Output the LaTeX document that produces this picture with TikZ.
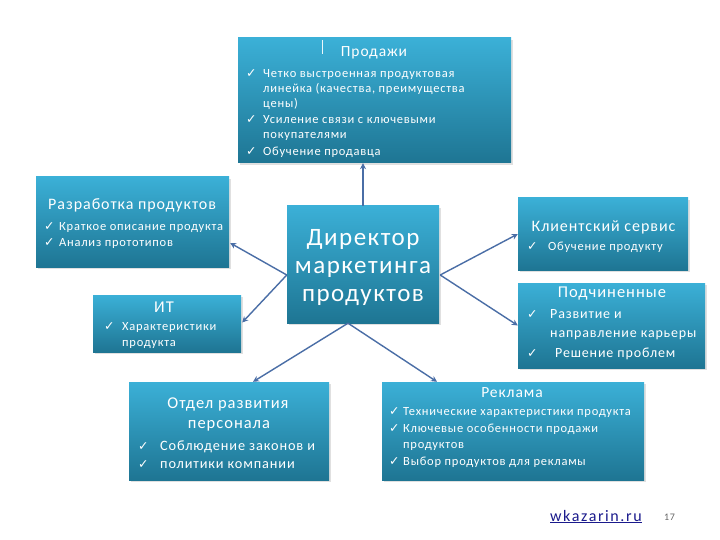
\documentclass[tikz,border=0pt]{standalone}
\usepackage{fontspec}
\setmainfont{Carlito}[LetterSpace=6]
\newfontfamily\symf{DejaVu Sans}
\newfontfamily\dirf{Carlito}[LetterSpace=6]
\newfontfamily\linkf{Carlito}[LetterSpace=10]
\usetikzlibrary{calc,shadows,arrows.meta}
\definecolor{boxtop}{HTML}{3BB0D7}
\definecolor{boxbot}{HTML}{1E7593}
\definecolor{arrc}{HTML}{4A6EA6}
\definecolor{linkc}{HTML}{1A1A8C}
\newcommand\fsz[1]{\fontsize{#1}{#1}\selectfont}
\newcommand\ckm{{\symf\fontsize{12.5}{12.5}\selectfont ✓}}
\tikzset{
  box/.style={rectangle, inner sep=0pt, draw=none, top color=boxtop, bottom color=boxbot,
    drop shadow={shadow xshift=2pt, shadow yshift=-2pt, opacity=0.2, fill=black!60}},
  txt/.style={anchor=base west, inner sep=0pt, text=white},
  ctr/.style={anchor=base, inner sep=0pt, text=white},
  ck/.style={anchor=base west, inner sep=0pt, text=white},
  arr/.style={draw=arrc, line width=1.4pt, -{Stealth[length=6pt,width=6pt]}}
}
\begin{document}
\begin{tikzpicture}[x=1pt,y=-1pt]
\useasboundingbox[fill=white] (0,0) rectangle (720,540);
% boxes
\node[box, minimum width=273, minimum height=125] (sales) at (374.5,100.5) {};
\node[box, minimum width=193, minimum height=90] (razr) at (132.5,222) {};
\node[box, minimum width=148, minimum height=57] (it) at (167,323.5) {};
\node[box, minimum width=152, minimum height=117] (dir) at (363,264.5) {};
\node[box, minimum width=170, minimum height=72] (klient) at (603,234) {};
\node[box, minimum width=187, minimum height=85] (podch) at (611.5,325.5) {};
\node[box, minimum width=200, minimum height=98] (otdel) at (229,431) {};
\node[box, minimum width=262, minimum height=98] (reklama) at (513,431) {};
% connectors
\draw[arr] (dir.north) -- (dir.north |- sales.south);
\draw[arr] ($(dir.west)+(0,10.5)$) -- ($(razr.east)+(1,21)$);
\draw[arr] ($(dir.west)+(0,10.5)$) -- ($(it.east)+(1,-1)$);
\draw[arr] ($(dir.east)+(1,10.5)$) -- (klient.west);
\draw[arr] ($(dir.east)+(1,10.5)$) -- (podch.west);
\draw[arr] ($(dir.south)+(-15,0)$) -- ($(otdel.north)+(24,0)$);
\draw[arr] ($(dir.south)+(-15,0)$) -- ($(reklama.north)+(-76,0)$);
% sales text
\node[inner sep=0pt, fill=white!90!boxtop, minimum width=1, minimum height=14] (bar) at (322,47) {};
\node[ctr, font=\fsz{15.5}] (s0) at (374,57) {Продажи};
\node[ck] (sc1) at (246,78) {\ckm};
\node[txt, font=\fsz{12.5}] (s1) at (263,78) {Четко выстроенная продуктовая};
\node[txt, font=\fsz{12.5}] (s2) at (263,93) {линейка (качества, преимущества};
\node[txt, font=\fsz{12.5}] (s3) at (263,108) {цены)};
\node[ck] (sc2) at (246,124) {\ckm};
\node[txt, font=\fsz{12.5}] (s4) at (263,124) {Усиление связи с ключевыми};
\node[txt, font=\fsz{12.5}] (s5) at (263,139) {покупателями};
\node[ck] (sc3) at (246,156) {\ckm};
\node[txt, font=\fsz{12.5}] (s6) at (263,156) {Обучение продавца};
% razr text
\node[txt, font=\fsz{16}] (r0) at (48,210) {Разработка продуктов};
\node[ck] (rc1) at (44,230) {\ckm};
\node[txt, font=\fsz{12.5}] (r1) at (59,230) {Краткое описание продукта};
\node[ck] (rc2) at (44,246) {\ckm};
\node[txt, font=\fsz{12.5}] (r2) at (59,246) {Анализ прототипов};
% it text
\node[ctr, font=\fsz{16.5}] (i0) at (164,312) {ИТ};
\node[ck] (ic1) at (104,330) {\ckm};
\node[txt, font=\fsz{12.5}] (i1) at (122,330) {Характеристики};
\node[txt, font=\fsz{12.5}] (i2) at (122,346) {продукта};
% director
\node[ctr, font=\dirf\fsz{25}] (d1) at (363,245) {Директор};
\node[ctr, font=\dirf\fsz{25}] (d2) at (363,273) {маркетинга};
\node[ctr, font=\dirf\fsz{25}] (d3) at (363,301) {продуктов};
% klient
\node[ctr, font=\fsz{16}] (k0) at (603.5,232) {Клиентский сервис};
\node[ck] (kc1) at (527,250) {\ckm};
\node[txt, font=\fsz{12.5}] (k1) at (548,250) {Обучение продукту};
% podch
\node[ctr, font=\fsz{16.5}] (p0) at (612,297) {Подчиненные};
\node[ck] (pc1) at (527,318) {\ckm};
\node[txt, font=\fsz{14}] (p1) at (550,318) {Развитие и};
\node[txt, font=\fsz{14}] (p2) at (550,337) {направление карьеры};
\node[ck] (pc2) at (527,357) {\ckm};
\node[txt, font=\fsz{14}] (p3) at (555,357) {Решение проблем};
% otdel
\node[ctr, font=\fsz{16.5}] (o0) at (228,408) {Отдел развития};
\node[ctr, font=\fsz{16.5}] (o1) at (229,428) {персонала};
\node[ck] (oc1) at (138,450) {\ckm};
\node[txt, font=\fsz{14.3}] (o2) at (160,450) {Соблюдение законов и};
\node[ck] (oc2) at (138,468) {\ckm};
\node[txt, font=\fsz{14.3}] (o3) at (160,468) {политики компании};
% reklama
\node[ctr, font=\fsz{15.5}] (a0) at (512,397) {Реклама};
\node[ck] (ac1) at (389,415) {\ckm};
\node[txt, font=\fsz{12.5}] (a1) at (403,415) {Технические характеристики продукта};
\node[ck] (ac2) at (389,432) {\ckm};
\node[txt, font=\fsz{12.5}] (a2) at (403,432) {Ключевые особенности продажи};
\node[txt, font=\fsz{12.5}] (a3) at (403,448) {продуктов};
\node[ck] (ac3) at (389,465) {\ckm};
\node[txt, font=\fsz{12.5}] (a4) at (403,465) {Выбор продуктов для рекламы};
% footer
\node[anchor=base west, inner sep=0pt, text=linkc, font=\linkf\fsz{16}] (link) at (550,521) {\underline{wkazarin.ru}};
\node[anchor=base west, inner sep=0pt, text=black!60, font=\fsz{10}] (pg) at (664,520) {17};
\end{tikzpicture}
\end{document}
